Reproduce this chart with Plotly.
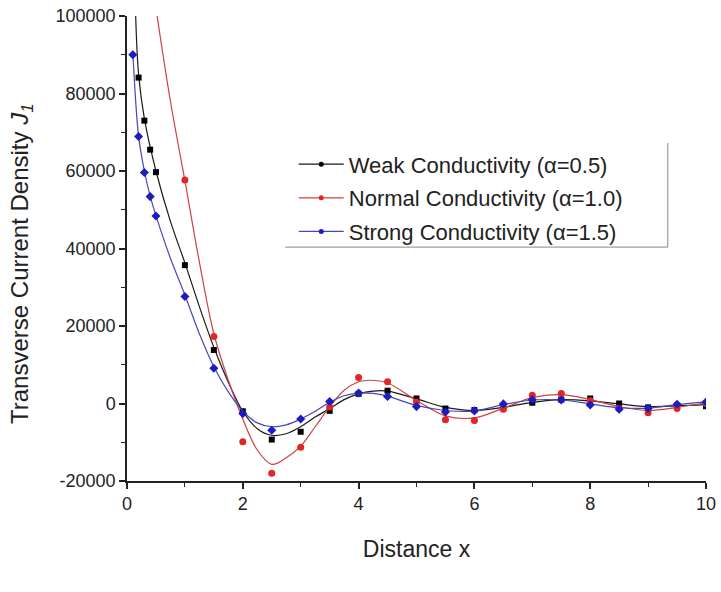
import plotly.graph_objects as go

# ---- measured points ----
x_weak = [0.2, 0.3, 0.4, 0.5, 1.0, 1.5, 2.0, 2.5, 3.0, 3.5, 4.0, 4.5, 5.0, 5.5, 6.0, 6.5, 7.0, 7.5, 8.0, 8.5, 9.0, 9.5, 10.0]
y_weak = [84100, 73000, 65500, 59700, 35700, 13800, -2000, -9300, -7300, -1900, 2500, 3300, 1300, -1300, -1700, -1100, 200, 1000, 1300, 0, -1000, -600, -700]

x_norm = [0.5, 1.0, 1.5, 2.0, 2.5, 3.0, 3.5, 4.0, 4.5, 5.0, 5.5, 6.0, 6.5, 7.0, 7.5, 8.0, 8.5, 9.0, 9.5, 10.0]
y_norm = [103000, 57700, 17300, -9900, -18000, -11300, -900, 6700, 5600, 400, -4200, -4400, -1500, 2100, 2600, 700, -1300, -2400, -1300, 0]

x_strong = [0.1, 0.2, 0.3, 0.4, 0.5, 1.0, 1.5, 2.0, 2.5, 3.0, 3.5, 4.0, 4.5, 5.0, 5.5, 6.0, 6.5, 7.0, 7.5, 8.0, 8.5, 9.0, 9.5, 10.0]
y_strong = [90000, 68900, 59600, 53400, 48400, 27600, 9100, -2600, -6900, -4000, 500, 2700, 1800, -800, -2200, -1900, -100, 1000, 900, -400, -1500, -1300, -200, 400]

# ---- fitted curves ----
fx_weak = [0.15, 0.2, 0.3, 0.5, 0.75, 1.0, 1.25, 1.5, 1.75, 2.0, 2.25, 2.5, 2.75, 3.0, 3.25, 3.5, 3.75, 4.0, 4.25, 4.5, 5.0, 5.5, 6.0, 6.5, 7.0, 7.5, 8.0, 8.5, 9.0, 9.5, 10.0]
fy_weak = [100000, 85000, 73500, 60000, 47000, 36300, 25000, 14500, 5500, -2000, -6500, -8200, -7800, -6000, -3500, -1300, 1000, 2500, 3200, 3200, 1200, -1000, -1800, -1000, 300, 1000, 700, -100, -800, -600, -300]

fx_norm = [0.52, 0.75, 1.0, 1.25, 1.5, 1.75, 2.0, 2.25, 2.5, 2.75, 3.0, 3.25, 3.5, 3.75, 4.0, 4.2, 4.5, 5.0, 5.5, 6.0, 6.5, 7.0, 7.5, 8.0, 8.5, 9.0, 9.5, 10.0]
fy_norm = [100000, 78000, 57500, 36500, 18000, 6000, -4000, -12000, -15700, -14000, -11000, -6000, -900, 3400, 5600, 6000, 5300, 800, -3200, -3700, -1200, 1500, 2300, 1000, -800, -1800, -1000, 200]

fx_strong = [0.1, 0.2, 0.3, 0.4, 0.5, 0.75, 1.0, 1.25, 1.5, 1.75, 2.0, 2.25, 2.5, 2.75, 3.0, 3.25, 3.5, 3.75, 4.0, 4.25, 4.5, 5.0, 5.5, 6.0, 6.5, 7.0, 7.5, 8.0, 8.5, 9.0, 9.5, 10.0]
fy_strong = [91000, 69000, 60000, 53500, 48500, 37500, 28000, 18000, 9500, 3000, -2000, -5000, -6000, -5500, -4000, -2000, 300, 2000, 2700, 2600, 1900, -500, -1800, -1900, -300, 900, 900, -100, -1100, -1200, -300, 400]

names = ["Weak Conductivity (α=0.5)", "Normal Conductivity (α=1.0)", "Strong Conductivity (α=1.5)"]
y_title = "Transverse Current Density <i>J</i><sub><i>1</i></sub>"
x_title = "Distance x"
y_tickvals = [-20000, 0, 20000, 40000, 60000, 80000, 100000]
y_ticktext = ["-20000", "0", "20000", "40000", "60000", "80000", "100000"]
x_tickvals = [0, 2, 4, 6, 8, 10]

FONT = "Arial, Liberation Sans, sans-serif"
series = [
    (x_weak, y_weak, fx_weak, fy_weak, "#000000", "#1a1a1a", "square", 6),
    (x_norm, y_norm, fx_norm, fy_norm, "#e02626", "#d04040", "circle", 7),
    (x_strong, y_strong, fx_strong, fy_strong, "#1c1cc0", "#4848b8", "diamond", 7),
]

fig = go.Figure()
for i, ((xs, ys, fx, fy, mc, lc, sym, sz), name) in enumerate(zip(series, names)):
    fig.add_trace(go.Scatter(x=fx, y=fy, mode="lines", line=dict(color=lc, width=1.2, shape="spline", smoothing=1.0),
                             showlegend=False, hoverinfo="skip"))
    fig.add_trace(go.Scatter(x=xs, y=ys, mode="markers", marker=dict(color=mc, symbol=sym, size=sz),
                             showlegend=False))
    fig.add_trace(go.Scatter(x=[None], y=[None], mode="lines+markers", name=name, legendgroup=f"g{i}",
                             line=dict(color=lc, width=1.2), marker=dict(color=mc, symbol="circle", size=5)))

fig.update_layout(
    width=721, height=592,
    margin=dict(l=127, r=15, t=16, b=111),
    paper_bgcolor="white", plot_bgcolor="white",
    font=dict(family=FONT, size=18, color="#222"),
    legend=dict(x=0.288, y=0.726, xanchor="left", yanchor="top", font=dict(size=22, color="#222"),
                bgcolor="rgba(255,255,255,0)", tracegroupgap=2, itemwidth=45),
    xaxis=dict(range=[0, 10], tickvals=x_tickvals, showgrid=False, zeroline=False, showline=True, automargin=False,
               linecolor="#222", linewidth=1.5, ticks="outside", ticklen=6, tickwidth=1.5, tickcolor="#222",
               minor=dict(dtick=1, ticks="outside", ticklen=4, tickwidth=1.2, tickcolor="#222"),
               title=dict(text=x_title, font=dict(size=23), standoff=28), tickfont=dict(size=18)),
    yaxis=dict(range=[-20000, 100000], tickvals=y_tickvals, ticktext=y_ticktext, showgrid=False, zeroline=False,
               automargin=False,
               showline=True, linecolor="#222", linewidth=1.5, ticks="outside", ticklen=6, tickwidth=1.5,
               tickcolor="#222", minor=dict(dtick=10000, tick0=0, ticks="outside", ticklen=4, tickwidth=1.2, tickcolor="#222"),
               tickfont=dict(size=18)),
)
# y-axis title, placed slightly below centre as in the reference
fig.add_annotation(text=y_title, xref="paper", yref="paper", x=-0.182, y=0.468, textangle=-90,
                   showarrow=False, xanchor="center", yanchor="middle", font=dict(size=24, color="#222"))
# legend frame (right and bottom edges as in reference)
fig.add_shape(type="line", xref="paper", yref="paper", x0=0.934, x1=0.934, y0=0.503, y1=0.727,
              line=dict(color="#888", width=1))
fig.add_shape(type="line", xref="paper", yref="paper", x0=0.273, x1=0.934, y0=0.503, y1=0.503,
              line=dict(color="#888", width=1))

fig.write_html("out.html", config={"displayModeBar": False},
               post_script="document.body.style.margin='0';document.body.style.overflow='hidden';")
